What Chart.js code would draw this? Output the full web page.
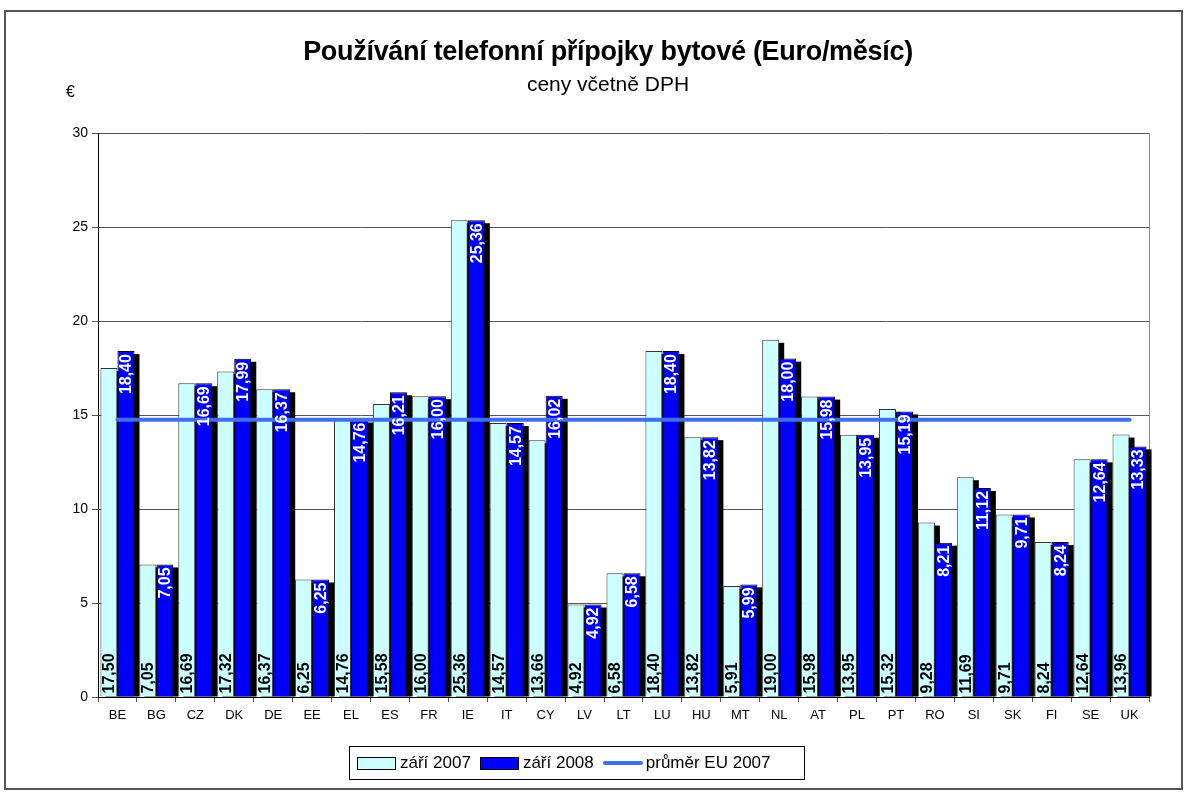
<!DOCTYPE html>
<html>
<head>
<meta charset="utf-8">
<script src="https://cdn.jsdelivr.net/npm/chart.js@4/dist/chart.umd.min.js"></script>
<style>
  body { margin: 0; background: #fff; font-family: Arial, "Liberation Sans", sans-serif; }
  #wrap { position: relative; width: 1188px; height: 803px; }
  #frame { position: absolute; left: 4px; top: 10px; width: 1179px; height: 780px; border: 2px solid #555; box-sizing: border-box; }
  #chart { position: absolute; left: 0; top: 0; }
  .title { position: absolute; left: 0; width: 1216px; text-align: center; color: #000; }
  #t1 { top: 36px; font-size: 27px; font-weight: bold; letter-spacing: -0.3px; }
  #t2 { top: 72px; font-size: 21px; }
  #euro { position: absolute; left: 66px; top: 83px; font-size: 16px; }
  #legend { position: absolute; left: 349px; top: 746px; width: 456px; height: 34px; border: 1px solid #000; box-sizing: border-box;
            display: flex; align-items: center; padding-left: 7px; font-size: 17px; }
  .sw { display: inline-block; width: 37px; height: 11px; border: 1px solid #000; margin-right: 4px; }
  .ln { display: inline-block; width: 40px; height: 4px; background: #3f6fef; border-radius: 2px; margin-right: 3px; }
  .item { display: flex; align-items: center; margin-right: 9px; white-space: nowrap; }
</style>
</head>
<body>
<div id="wrap">
  <div id="frame"></div>
  <canvas id="chart" width="1188" height="803"></canvas>
  <div class="title" id="t1">Používání telefonní přípojky bytové (Euro/měsíc)</div>
  <div class="title" id="t2">ceny včetně DPH</div>
  <div id="euro">€</div>
  <div id="legend">
    <span class="item"><span class="sw" style="background:#ccffff"></span>září 2007</span>
    <span class="item"><span class="sw" style="background:#0000ff"></span>září 2008</span>
    <span class="item"><span class="ln"></span>průměr EU 2007</span>
  </div>
</div>
<script>
const countries = ['BE', 'BG', 'CZ', 'DK', 'DE', 'EE', 'EL', 'ES', 'FR', 'IE', 'IT', 'CY', 'LV', 'LT', 'LU',
    'HU', 'MT', 'NL', 'AT', 'PL', 'PT', 'RO', 'SI', 'SK', 'FI', 'SE', 'UK'];
const sep2007 = [17.50, 7.05, 16.69, 17.32, 16.37, 6.25, 14.76, 15.58, 16.00, 25.36, 14.57, 13.66, 4.92, 6.58, 18.40,
    13.82, 5.91, 19.00, 15.98, 13.95, 15.32, 9.28, 11.69, 9.71, 8.24, 12.64, 13.96];
const sep2008 = [18.40, 7.05, 16.69, 17.99, 16.37, 6.25, 14.76, 16.21, 16.00, 25.36, 14.57, 16.02, 4.92, 6.58, 18.40,
    13.82, 5.99, 18.00, 15.98, 13.95, 15.19, 8.21, 11.12, 9.71, 8.24, 12.64, 13.33];
const euAvg2007 = [14.75, 14.75, 14.75, 14.75, 14.75, 14.75, 14.75, 14.75, 14.75, 14.75, 14.75, 14.75, 14.75, 14.75,
    14.75, 14.75, 14.75, 14.75, 14.75, 14.75, 14.75, 14.75, 14.75, 14.75, 14.75, 14.75, 14.75];
const yTicks = [0, 5, 10, 15, 20, 25, 30];

const fmt = v => v.toFixed(2).replace('.', ',');

// black "3D" shadow behind bars + plot frame
const shadowPlugin = {
    id: 'shadow',
    beforeDatasetsDraw(chart) {
        const ctx = chart.ctx;
        const a = chart.chartArea;
        ctx.save();
        ctx.strokeStyle = '#888';
        ctx.lineWidth = 1;
        ctx.beginPath();
        ctx.moveTo(a.right + 0.5, a.top);
        ctx.lineTo(a.right + 0.5, a.bottom);
        ctx.stroke();
        ctx.fillStyle = '#000';
        [0, 1].forEach(i => {
            chart.getDatasetMeta(i).data.forEach(el => {
                const p = el.getProps(['x', 'y', 'base', 'width'], true);
                ctx.fillRect(p.x - p.width / 2 + 5, p.y + 3, p.width, p.base - p.y - 3);
            });
        });
        ctx.restore();
    }
};

// rotated value labels
const labelPlugin = {
    id: 'valueLabels',
    afterDatasetsDraw(chart) {
        const ctx = chart.ctx;
        ctx.save();
        ctx.font = 'bold 16px Arial, "Liberation Sans"';
        ctx.textBaseline = 'middle';
        chart.getDatasetMeta(0).data.forEach((el, i) => {
            const p = el.getProps(['x', 'y', 'base'], true);
            ctx.save();
            ctx.translate(p.x, p.base - 3);
            ctx.rotate(-Math.PI / 2);
            ctx.textAlign = 'left';
            ctx.fillStyle = '#000';
            ctx.fillText(fmt(sep2007[i]), 0, 1);
            ctx.restore();
        });
        chart.getDatasetMeta(1).data.forEach((el, i) => {
            const p = el.getProps(['x', 'y', 'base'], true);
            ctx.save();
            ctx.translate(p.x, p.y + 3);
            ctx.rotate(-Math.PI / 2);
            ctx.textAlign = 'right';
            ctx.fillStyle = '#fff';
            ctx.fillText(fmt(sep2008[i]), 0, 1);
            ctx.restore();
        });
        ctx.restore();
    }
};

new Chart(document.getElementById('chart'), {
    type: 'bar',
    data: {
        labels: countries,
        datasets: [{
                label: 'září 2007',
                data: sep2007,
                backgroundColor: '#ccffff',
                borderColor: '#333',
                borderWidth: 1,
                order: 1
            },
            {
                label: 'září 2008',
                data: sep2008,
                backgroundColor: '#0000ff',
                borderColor: '#000',
                borderWidth: 1,
                order: 1
            },
            {
                type: 'line',
                label: 'průměr EU 2007',
                data: euAvg2007,
                borderColor: '#3f6fef',
                borderWidth: 4,
                pointRadius: 0,
                borderCapStyle: 'round',
                order: 0
            }
        ]
    },
    options: {
        responsive: false,
        animation: false,
        categoryPercentage: 0.875,
        barPercentage: 1,
        layout: { padding: { left: 0, top: 133, right: 39, bottom: 76 } },
        plugins: {
            legend: { display: false },
            title: { display: false },
            tooltip: { enabled: false }
        },
        scales: {
            x: {
                afterFit: s => { s.height = 30; },
                grid: { drawOnChartArea: false, drawTicks: true, tickLength: 5, color: '#555' },
                border: { color: '#000', width: 1 },
                ticks: { color: '#000', font: { size: 13, family: 'Arial' }, padding: 6, maxRotation: 0, autoSkip: false }
            },
            y: {
                min: 0,
                max: 30,
                afterFit: s => { s.width = 98; },
                afterBuildTicks: s => { s.ticks = yTicks.map(v => ({ value: v })); },
                grid: { color: '#555', tickLength: 6 },
                border: { color: '#000', width: 1 },
                ticks: { color: '#000', font: { size: 14, family: 'Arial' }, padding: 4 }
            }
        }
    },
    plugins: [shadowPlugin, labelPlugin]
});
</script>
</body>
</html>
